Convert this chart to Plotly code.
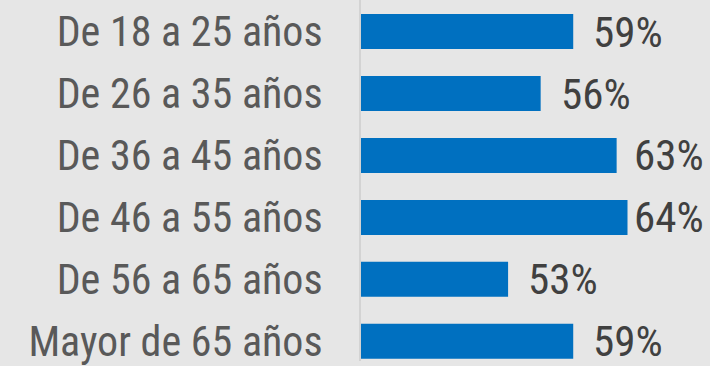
import plotly.graph_objects as go

# Share per age group (%)
groups = [
    "De 18 a 25 años",
    "De 26 a 35 años",
    "De 36 a 45 años",
    "De 46 a 55 años",
    "De 56 a 65 años",
    "Mayor de 65 años",
]
shares = [59, 56, 63, 64, 53, 59]

FONT = "Roboto Condensed, Liberation Sans Narrow, Arial Narrow, DejaVu Sans Condensed, Roboto, sans-serif"
BG = "#e6e6e6"
BAR = "#0070c0"

X_MIN, X_MAX = 39.45, 71.6
LABEL_GAP = 1.66      # gap between bar end and its label, in axis units
LABEL_LIMIT = 64.38   # labels never start further right than this

fig = go.Figure(
    go.Bar(
        x=shares,
        y=groups,
        orientation="h",
        marker=dict(color=BAR, line=dict(width=0)),
        hoverinfo="skip",
    )
)

for g, v in zip(groups, shares):
    fig.add_annotation(
        x=min(v + LABEL_GAP, LABEL_LIMIT),
        y=g,
        text=f"{v}%",
        xanchor="left",
        yanchor="middle",
        showarrow=False,
        font=dict(family=FONT, size=43, color="#404040"),
    )

fig.update_layout(
    width=710,
    height=366,
    margin=dict(l=361, r=0, t=0, b=0),
    paper_bgcolor=BG,
    plot_bgcolor=BG,
    bargap=0.435,
    showlegend=False,
    xaxis=dict(
        range=[X_MIN, X_MAX],
        visible=False,
        showgrid=False,
        zeroline=False,
    ),
    yaxis=dict(
        type="category",
        categoryorder="array",
        categoryarray=groups,
        range=[5.318, -0.51],
        showgrid=False,
        zeroline=False,
        showline=True,
        linecolor="#d3d3d3",
        linewidth=2,
        ticks="",
        ticklabelstandoff=28,
        tickfont=dict(family=FONT, size=42, color="#595959"),
    ),
)

fig.write_html("out.html")
